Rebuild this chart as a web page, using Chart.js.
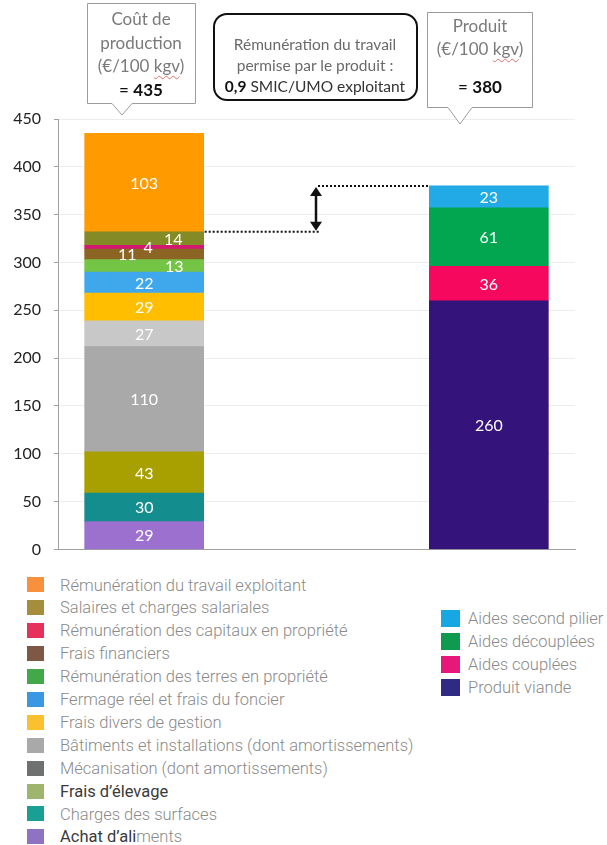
<!DOCTYPE html>
<html><head><meta charset="utf-8">
<script src="https://cdn.jsdelivr.net/npm/chart.js@4"></script>
<style>
html,body{margin:0;padding:0;background:#fff;}
body{width:607px;height:845px;position:relative;overflow:hidden;font-family:Lato,"Open Sans",sans-serif;}
#wrap{position:absolute;left:0;top:0;width:607px;height:572px;}
svg.ov{position:absolute;left:0;top:0;}
.ln{position:absolute;text-align:center;white-space:nowrap;height:22px;line-height:22px;}
.c1{font-size:17px;color:#7a7a7a;}
.c2{font-size:15.5px;color:#6a6a6a;}
.sq{text-decoration:underline wavy #e07070;text-decoration-thickness:1px;text-underline-offset:3px;}
.leg{position:absolute;font-family:Roboto,sans-serif;font-weight:300;font-size:16.5px;color:#8a8a8a;}
.row{position:absolute;left:0;white-space:nowrap;height:23px;line-height:23px;}
.sw{position:absolute;}
</style>
</head>
<body>
<div id="wrap"><canvas id="c"></canvas></div>
<svg class="ov" width="607" height="130">
  <path d="M87.5,3.5 H195.5 V103.5 H132 L122,115 L112,103.5 H87.5 Z" fill="#fff" stroke="#9c9c9c" stroke-width="1"/>
  <path d="M427.5,12.5 H532.5 V107.5 H472 L460,124 L448,107.5 H427.5 Z" fill="#fff" stroke="#9c9c9c" stroke-width="1"/>
  <rect x="214" y="14" width="203" height="86" rx="13" ry="13" fill="#fff" stroke="#111" stroke-width="2"/>
</svg>
<div id="callouts"></div>
<div id="legL" class="leg"></div>
<div id="legR" class="leg"></div>
<script>
// ---- data ----
const categories = ['Coût de production', '', 'Produit'];
const costLabels = ["Achat d'aliments", 'Charges des surfaces', "Frais d'élevage", 'Mécanisation (dont amortissements)', 'Bâtiments et installations (dont amortissements)', 'Frais divers de gestion', 'Fermage réel et frais du foncier', 'Rémunération des terres en propriété', 'Frais financiers', 'Rémunération des capitaux en propriété', 'Salaires et charges salariales', 'Rémunération du travail exploitant'];
const costValues = [29, 30, 43, 110, 27, 29, 22, 13, 11, 4, 14, 103];
const productLabels = ['Produit viande', 'Aides couplées', 'Aides découplées', 'Aides second pilier'];
const productValues = [260, 36, 61, 23];
const yTicks = [0, 50, 100, 150, 200, 250, 300, 350, 400, 450];
const remunerationText = ['Rémunération du travail', 'permise par le produit :'];
const smicValue = '0,9';
const smicText = ' SMIC/UMO exploitant';

// ---- styles ----
const costColors = ['#9b70cf', '#138d8d', '#a8a000', '#a9a9a9', '#c8c8c8', '#ffbf00', '#3fa8ec', '#74c445', '#8c6424', '#d3186f', '#848a26', '#ff9a00'];
const costLegendColors = ['#8e73c2', '#1a9f94', '#9fb56e', '#6f7070', '#a9a9a9', '#fbc02d', '#3b97e3', '#43a84a', '#7c5845', '#e8305c', '#a48d3b', '#f7913d'];
const productColors = ['#34137a', '#f5085e', '#02a651', '#21aae6'];
const productLegendColors = ['#2f2a83', '#e8177a', '#0e9a4f', '#17a8e3'];
const costLabelDx = [0, 0, 0, 0, 0, 0, 0, 30, -17, 4, 29, 0];

const datasets = [];
costValues.forEach((v, i) => datasets.push({
  label: costLabels[i], data: [v, null, null], backgroundColor: costColors[i],
  stack: 's', labelDx: costLabelDx[i]
}));
productValues.forEach((v, i) => datasets.push({
  label: productLabels[i], data: [null, null, v], backgroundColor: productColors[i],
  stack: 's', labelDx: 0
}));

const segLabels = {
  id: 'segLabels',
  afterDatasetsDraw(chart) {
    const ctx = chart.ctx;
    ctx.save();
    ctx.font = '16px Lato';
    ctx.fillStyle = '#ffffff';
    ctx.textAlign = 'center';
    ctx.textBaseline = 'middle';
    chart.data.datasets.forEach((ds, i) => {
      const meta = chart.getDatasetMeta(i);
      meta.data.forEach((el, j) => {
        const v = ds.data[j];
        if (v == null) return;
        ctx.fillText(String(v), el.x + (ds.labelDx || 0), (el.y + el.base) / 2 + 1);
      });
    });
    // annotation: gap between cost (excl. labour remuneration) and product
    const topCost = chart.getDatasetMeta(costValues.length - 1).data[0];
    const topProd = chart.getDatasetMeta(costValues.length + productValues.length - 1).data[2];
    const yLow = topCost.base;
    const yHigh = topProd.y;
    const xL = topCost.x + topCost.width / 2;
    const xR = topProd.x - topProd.width / 2;
    const ax = Math.round((xL + xR) / 2) - 1;
    ctx.strokeStyle = '#111';
    ctx.lineWidth = 2;
    ctx.setLineDash([2, 2]);
    ctx.beginPath();
    ctx.moveTo(xL + 1, yLow); ctx.lineTo(ax + 3, yLow);
    ctx.moveTo(ax + 2, yHigh); ctx.lineTo(xR, yHigh);
    ctx.stroke();
    ctx.setLineDash([]);
    ctx.lineWidth = 2.5;
    ctx.beginPath();
    ctx.moveTo(ax, yHigh + 6); ctx.lineTo(ax, yLow - 6);
    ctx.stroke();
    ctx.fillStyle = '#111';
    ctx.beginPath();
    ctx.moveTo(ax, yHigh + 1); ctx.lineTo(ax - 6, yHigh + 10); ctx.lineTo(ax + 6, yHigh + 10); ctx.closePath();
    ctx.moveTo(ax, yLow - 1); ctx.lineTo(ax - 6, yLow - 10); ctx.lineTo(ax + 6, yLow - 10); ctx.closePath();
    ctx.fill();
    ctx.restore();
  }
};

function build() {
  new Chart(document.getElementById('c'), {
    type: 'bar',
    data: { labels: categories, datasets: datasets },
    options: {
      responsive: true,
      maintainAspectRatio: false,
      animation: false,
      layout: { padding: { top: 119, bottom: 11, left: 0, right: 32 } },
      plugins: { legend: { display: false }, tooltip: { enabled: false } },
      datasets: { bar: { barThickness: 119, borderWidth: 0 } },
      scales: {
        x: {
          stacked: true,
          ticks: { display: false },
          grid: { display: false, drawTicks: false },
          border: { color: '#a0a0a0', width: 1 },
          afterFit(s) { s.height = 0; }
        },
        y: {
          stacked: true,
          min: yTicks[0], max: yTicks[yTicks.length - 1],
          afterBuildTicks(s) { s.ticks = yTicks.map(v => ({ value: v })); },
          ticks: { font: { family: 'Lato', size: 16 }, color: '#222', padding: 13 },
          grid: { color: 'rgba(0,0,0,0.07)', tickColor: '#a0a0a0', tickLength: 4 },
          border: { color: '#a0a0a0', width: 1 },
          afterFit(s) { s.width = 58; }
        }
      }
    },
    plugins: [segLabels]
  });
}

// callouts (text)
const sum = a => a.reduce((p, q) => p + q, 0);
function line(cx, cy, w, cls, html) {
  const d = document.createElement('div');
  d.className = 'ln ' + cls;
  d.style.left = (cx - w / 2) + 'px';
  d.style.width = w + 'px';
  d.style.top = (cy - 11) + 'px';
  d.innerHTML = html;
  document.getElementById('callouts').appendChild(d);
}
line(141, 19, 106, 'c1', 'Coût de');
line(141, 43, 106, 'c1', 'production');
line(141, 66, 106, 'c1', '(€/100 <span class="sq">kgv</span>)');
line(141, 90, 106, 'c1', '<span style="color:#111">= <b>' + sum(costValues) + '</b></span>');
line(315, 44, 200, 'c2', remunerationText[0]);
line(315, 65, 200, 'c2', remunerationText[1]);
line(315, 86, 200, 'c2', '<b style="color:#111">' + smicValue + '</b><span style="color:#333">' + smicText + '</span>');
line(480, 26, 104, 'c1', 'Produit');
line(480, 49, 104, 'c1', '(€/100 <span class="sq">kgv</span>)');
line(480, 87, 104, 'c1', '<span style="color:#111">= <b>' + sum(productValues) + '</b></span>');

// legends
function legend(id, left, top, labels, colors, swW, swH, textX, rowH, dark) {
  const box = document.getElementById(id);
  box.style.left = left + 'px';
  box.style.top = top + 'px';
  labels.forEach((lab, i) => {
    const r = document.createElement('div');
    r.className = 'row';
    r.style.top = (i * rowH) + 'px';
    const s = document.createElement('div');
    s.className = 'sw';
    s.style.left = '0px';
    s.style.top = ((rowH - swH) / 2) + 'px';
    s.style.width = swW + 'px';
    s.style.height = swH + 'px';
    s.style.background = colors[i];
    const t = document.createElement('div');
    t.style.position = 'absolute';
    t.style.left = textX + 'px';
    t.style.top = '0px';
    t.innerHTML = dark ? dark(lab) : lab;
    r.appendChild(s); r.appendChild(t);
    box.appendChild(r);
  });
}
const rev = a => a.slice().reverse();
legend('legL', 27, 573.5, rev(costLabels), rev(costLegendColors), 17, 15, 33, 22.9, lab => {
  if (lab === "Frais d'élevage") return '<span style="color:#3a3a3a;font-weight:400">Frais d’élevage</span>';
  if (lab === "Achat d'aliments") return '<span style="color:#3a3a3a;font-weight:400">Achat d’ali</span>ments';
  return lab;
});
legend('legR', 441, 606.5, rev(productLabels), rev(productLegendColors), 19, 17, 27, 23, null);

if (document.fonts && document.fonts.load) {
  Promise.all([document.fonts.load('16px Lato'), document.fonts.load('bold 16px Lato')]).then(build, build);
} else build();
</script>
</body></html>
